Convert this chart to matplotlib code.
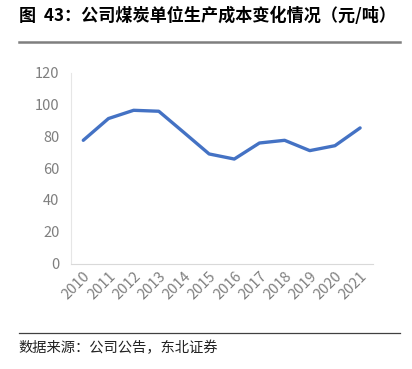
import matplotlib
matplotlib.use('Agg')
import matplotlib.pyplot as plt
from matplotlib.lines import Line2D

plt.rcParams['font.family'] = ['Noto Sans CJK SC', 'DejaVu Sans']

# === 数据 ===
years = ['2010', '2011', '2012', '2013', '2014', '2015', '2016',
         '2017', '2018', '2019', '2020', '2021']
cost = [77.6, 91.3, 96.5, 95.9, 82.5, 69.0, 65.8, 75.9, 77.6, 71.1, 74.2, 85.4]
yticks = [0, 20, 40, 60, 80, 100, 120]

title = '图  43：公司煤炭单位生产成本变化情况（元/吨）'
source = '数据来源：公司公告，东北证券'

fig = plt.figure(figsize=(4.12, 3.69), dpi=100)
ax = fig.add_axes([0.1716, 0.2859, 0.733, 0.5163])

x = list(range(len(years)))
ax.plot(x, cost, color='#4472C4', linewidth=2.4, solid_capstyle='round')

ax.set_xlim(-0.5, len(years) - 0.5)
ax.set_ylim(0, 120)
ax.set_yticks(yticks)
ax.set_xticks(x)
ax.set_xticklabels(years, rotation=45, ha='right', rotation_mode='anchor')

for s in ['top', 'right']:
    ax.spines[s].set_visible(False)
ax.spines['left'].set_color('#e6e6e6')
ax.spines['bottom'].set_color('#d9d9d9')
ax.tick_params(axis='both', length=0, colors='#7f7f7f', labelsize=10.5)
ax.tick_params(axis='y', pad=8)
ax.tick_params(axis='x', pad=4)

# 标题与分隔线
fig.text(0.045, 0.957, title, fontsize=12.3, fontweight='bold', ha='left', va='center')
fig.add_artist(Line2D([0.045, 0.97], [0.885, 0.885], color='#7f7f7f', linewidth=1.8))
fig.add_artist(Line2D([0.045, 0.97], [0.098, 0.098], color='#404040', linewidth=0.9))
fig.text(0.045, 0.057, source, fontsize=10.3, ha='left', va='center', color='#222222')

fig.savefig('out.png', dpi=100)
